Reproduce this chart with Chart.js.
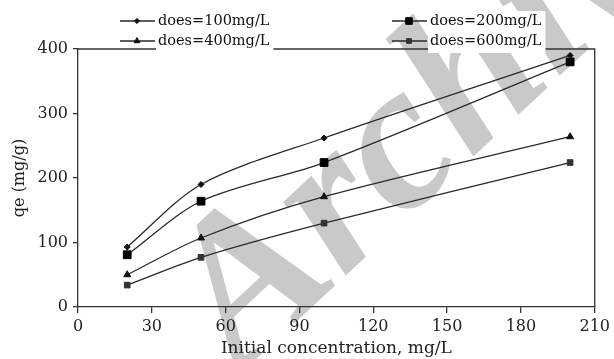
<!DOCTYPE html>
<html lang="en">
<head>
<meta charset="UTF-8">
<title>qe x Initial concentration</title>
<script src="https://cdn.jsdelivr.net/npm/chart.js"></script>
<style>
    body { margin: 0; background: #fff; }
    #grafico { width: 614px; height: 359px; }
</style>
</head>
<body>
<div id="grafico"><canvas id="myChartCanvas" width="614" height="359"></canvas></div>

<script>
    // dados (mg/L -> qe mg/g)
    const concentracoes = [20, 50, 100, 200];
    const dose100 = [93, 190, 262, 390];
    const dose200 = [81, 164, 224, 380];
    const dose400 = [50, 107, 171, 264];
    const dose600 = [34, 77, 130, 224];
    const rotulos = ['does=100mg/L', 'does=200mg/L', 'does=400mg/L', 'does=600mg/L'];
    const ticksX = [0, 30, 60, 90, 120, 150, 180, 210];
    const ticksY = [0, 100, 200, 300, 400];

    const fonte = '"DejaVu Serif", "Liberation Serif", serif';
    const corLinha = '#2a2a2a';

    function serie(label, valores, estilo, raio, cor) {
        return {
            label: label,
            data: concentracoes.map((x, i) => ({ x: x, y: valores[i] })),
            borderColor: corLinha,
            borderWidth: 1.3,
            tension: 0.3,
            pointStyle: estilo,
            pointRadius: raio,
            pointHoverRadius: raio,
            pointBackgroundColor: cor,
            pointBorderColor: cor,
            pointBorderWidth: 1,
            fill: false
        };
    }

    const dados = {
        datasets: [
            serie(rotulos[0], dose100, 'rectRot', 3, '#111'),
            serie(rotulos[1], dose200, 'rect', 5.5, '#000'),
            serie(rotulos[2], dose400, 'triangle', 4, '#111'),
            serie(rotulos[3], dose600, 'rect', 4, '#333')
        ]
    };

    // fundo branco + marca d'agua cinza por baixo de tudo
    const fundo = {
        id: 'fundo',
        beforeDraw(chart) {
            const ctx = chart.ctx;
            ctx.save();
            ctx.fillStyle = '#fff';
            ctx.fillRect(0, 0, chart.width, chart.height);
            ctx.translate(240, 374);
            ctx.rotate(-43 * Math.PI / 180);
            ctx.font = 'bold italic 210px "Liberation Serif"';
            ctx.fillStyle = '#c9c9c9';
            ctx.textBaseline = 'alphabetic';
            ctx.fillText('Archive', 0, 0);
            ctx.restore();
        },
        beforeDatasetsDraw(chart) {
            // moldura de cima e da direita
            const a = chart.chartArea;
            const ctx = chart.ctx;
            ctx.save();
            ctx.strokeStyle = '#333';
            ctx.lineWidth = 1.3;
            ctx.beginPath();
            ctx.moveTo(a.left, a.top);
            ctx.lineTo(a.right, a.top);
            ctx.lineTo(a.right, a.bottom);
            ctx.stroke();
            ctx.restore();
        }
    };

    // legenda em duas colunas, com caixa branca atras do texto
    const legenda = {
        id: 'legenda',
        afterDraw(chart) {
            const ctx = chart.ctx;
            const posicoes = [[120, 21], [392, 21], [120, 41], [392, 41]];
            ctx.save();
            ctx.font = '14.5px ' + fonte;
            ctx.textBaseline = 'middle';
            chart.data.datasets.forEach((ds, i) => {
                const [x, y] = posicoes[i];
                const largura = ctx.measureText(ds.label).width;
                ctx.fillStyle = '#fff';
                ctx.fillRect(x + 36, y - 10, largura + 6, i < 2 ? 20 : 22);

                ctx.strokeStyle = corLinha;
                ctx.lineWidth = 1.3;
                ctx.beginPath();
                ctx.moveTo(x, y);
                ctx.lineTo(x + 35, y);
                ctx.stroke();

                ctx.fillStyle = ds.pointBackgroundColor;
                ctx.strokeStyle = ds.pointBorderColor;
                ctx.lineWidth = 1;
                Chart.helpers.drawPoint(ctx, {
                    pointStyle: ds.pointStyle,
                    radius: ds.pointRadius * 0.85,
                    rotation: 0,
                    borderWidth: 1
                }, x + 17, y);

                ctx.fillStyle = '#111';
                ctx.fillText(ds.label, x + 38, y);
            });
            ctx.restore();
        }
    };

    const config = {
        type: 'line',
        data: dados,
        options: {
            responsive: false,
            animation: false,
            layout: { padding: { top: 49, right: 19, left: 0, bottom: 0 } },
            plugins: {
                legend: { display: false },
                tooltip: { enabled: false }
            },
            scales: {
                x: {
                    type: 'linear',
                    min: 0,
                    max: 210,
                    z: 1,
                    afterBuildTicks: (s) => { s.ticks = ticksX.map(v => ({ value: v })); },
                    afterFit: (s) => { s.height = 52; },
                    grid: { drawOnChartArea: false, tickLength: 6, color: '#333', lineWidth: 1.3 },
                    border: { color: '#333', width: 1.3 },
                    ticks: { color: '#222', padding: 4, font: { family: fonte, size: 16 } },
                    title: {
                        display: true,
                        text: 'Initial concentration, mg/L',
                        color: '#222',
                        padding: { top: 0, bottom: 0 },
                        font: { family: fonte, size: 17 }
                    }
                },
                y: {
                    min: 0,
                    max: 400,
                    z: 1,
                    afterBuildTicks: (s) => { s.ticks = ticksY.map(v => ({ value: v })); },
                    afterFit: (s) => { s.width = 78; },
                    grid: { drawOnChartArea: false, tickLength: 5, color: '#333', lineWidth: 1.3 },
                    border: { color: '#333', width: 1.3 },
                    ticks: { color: '#222', padding: 5, font: { family: fonte, size: 16 } },
                    title: {
                        display: true,
                        text: 'qe (mg/g)',
                        color: '#222',
                        padding: { top: 10, bottom: 0 },
                        font: { family: fonte, size: 16 }
                    }
                }
            }
        },
        plugins: [fundo, legenda]
    };

    let myChart = new Chart(document.getElementById('myChartCanvas'), config);
</script>
</body>
</html>
